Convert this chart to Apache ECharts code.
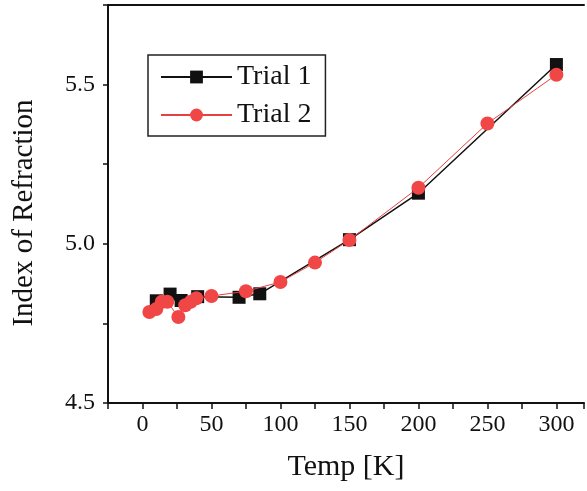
<!DOCTYPE html>
<html>
<head>
<meta charset="utf-8">
<script src="https://cdn.jsdelivr.net/npm/echarts@6/dist/echarts.min.js"></script>
<style>
  html, body { margin: 0; padding: 0; background: #fff; }
  #chart { width: 587px; height: 491px; }
</style>
</head>
<body>
<div id="chart"></div>
<script>
// Trial 1 (black squares)
const trial1Temp = [10, 20, 28, 40, 70, 85, 150, 200, 300];
const trial1Index = [4.821, 4.842, 4.822, 4.834, 4.832, 4.843, 5.013, 5.159, 5.563];
// Trial 2 (red circles)
const trial2Temp = [5, 10, 14, 18, 26, 31, 35, 39, 50, 75, 100, 125, 150, 200, 250, 300];
const trial2Index = [4.786, 4.795, 4.818, 4.818, 4.770, 4.807, 4.818, 4.829, 4.836, 4.851, 4.880, 4.941, 5.012, 5.176, 5.378, 5.531];

const font = 'Liberation Serif, Times New Roman, serif';
const pairs = (xs, ys) => xs.map((x, i) => [x, ys[i]]);

const chart = echarts.init(document.getElementById('chart'));
chart.setOption({
  animation: false,
  backgroundColor: '#fff',
  grid: { left: 108, top: 5, right: 0, bottom: 88 },
  legend: {
    left: 148, top: 55,
    orient: 'vertical',
    padding: [7, 14, 6, 12],
    itemGap: 8,
    itemWidth: 71, itemHeight: 16,
    borderColor: '#222', borderWidth: 1.5,
    textStyle: { fontFamily: font, fontSize: 28, lineHeight: 30, color: '#111' },
    data: ['Trial 1', 'Trial 2']
  },
  xAxis: [{
    type: 'value', min: -25, max: 320, interval: 25,
    name: 'Temp [K]', nameLocation: 'middle', nameGap: 49,
    nameTextStyle: { fontFamily: font, fontSize: 30, color: '#111' },
    axisLine: { onZero: false, lineStyle: { color: '#111', width: 2 } },
    axisTick: { length: 6, lineStyle: { color: '#111', width: 1.5 } },
    axisLabel: {
      fontFamily: font, fontSize: 24, color: '#111', margin: 10,
      formatter: v => (v >= 0 && v % 50 === 0) ? String(v) : ''
    },
    splitLine: { show: false }
  }, {
    type: 'value', position: 'top', min: -25, max: 320,
    axisLine: { show: true, onZero: false, lineStyle: { color: '#111', width: 2 } },
    axisTick: { show: false }, axisLabel: { show: false }, splitLine: { show: false }
  }],
  yAxis: {
    type: 'value', min: 4.5, max: 5.75, interval: 0.25,
    name: 'Index of Refraction', nameLocation: 'middle', nameGap: 69,
    nameTextStyle: { fontFamily: font, fontSize: 29, color: '#111', padding: [0, 18, 0, 0] },
    axisLine: { show: true, onZero: false, lineStyle: { color: '#111', width: 2 } },
    axisTick: { show: true, length: 5, lineStyle: { color: '#111', width: 1.5 } },
    axisLabel: {
      fontFamily: font, fontSize: 24, color: '#111', margin: 13,
      formatter: v => (Math.abs(v * 2 - Math.round(v * 2)) < 1e-6 && v < 5.7) ? v.toFixed(1) : ''
    },
    splitLine: { show: false }
  },
  series: [{
    name: 'Trial 1', type: 'line',
    data: pairs(trial1Temp, trial1Index),
    symbol: 'rect', symbolSize: 13,
    itemStyle: { color: '#111' },
    lineStyle: { color: '#111', width: 1.5 },
    z: 2
  }, {
    name: 'Trial 2', type: 'line',
    data: pairs(trial2Temp, trial2Index),
    symbol: 'circle', symbolSize: 14,
    itemStyle: { color: '#f04646' },
    lineStyle: { color: '#e84040', width: 1 },
    z: 3
  }]
});
</script>
</body>
</html>
